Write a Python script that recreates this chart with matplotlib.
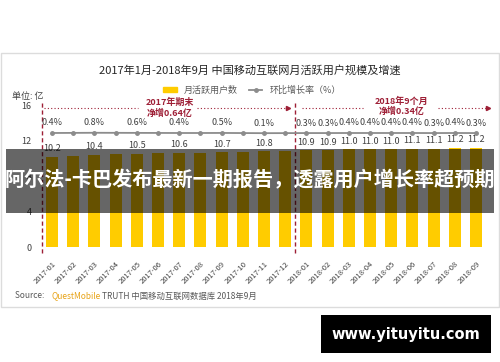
import matplotlib
matplotlib.use("Agg")
import matplotlib.pyplot as plt
from matplotlib.patches import Rectangle, Patch
from matplotlib.lines import Line2D

plt.rcParams['font.family'] = ['Noto Sans CJK SC', 'DejaVu Sans']

months = ["2017-01", "2017-02", "2017-03", "2017-04", "2017-05", "2017-06", "2017-07",
          "2017-08", "2017-09", "2017-10", "2017-11", "2017-12", "2018-01", "2018-02",
          "2018-03", "2018-04", "2018-05", "2018-06", "2018-07", "2018-08", "2018-09"]
users = [10.2, 10.3, 10.4, 10.45, 10.5, 10.55, 10.6, 10.65, 10.7, 10.75, 10.8, 10.86,
         10.9, 10.9, 11.0, 11.0, 11.0, 11.1, 11.1, 11.2, 11.2]
growth = [0.4, 0.6, 0.8, 0.7, 0.6, 0.5, 0.4, 0.4, 0.5, 0.3, 0.1, 0.2,
          0.3, 0.3, 0.4, 0.4, 0.4, 0.4, 0.3, 0.4, 0.3]
label_idx = [0, 2, 4, 6, 8, 10, 12, 13, 14, 15, 16, 17, 18, 19, 20]
yticks = [0, 4, 8, 12, 16]

W, H = 500, 362
fig = plt.figure(figsize=(W / 100, H / 100), dpi=100)

def fx(x):
    return x / W

def fy(y):
    return 1 - y / H

# frame
fig.add_artist(Rectangle((fx(1), fy(307)), fx(498), 254 / H, transform=fig.transFigure,
                         fill=False, edgecolor='#dcdcdc', lw=1))

ax = fig.add_axes([41.4 / W, 106.1 / H, 445.2 / W, 19 * 8.875 / H])
x = list(range(len(months)))
ax.bar(x, users, width=0.57, color='#FFCC00', zorder=2)
ax.set_xlim(-0.5, 20.5)
ax.set_ylim(-1, 18)
ax.set_yticks(yticks)
ax.set_yticklabels([str(t) for t in yticks], fontsize=6.5, color='#404040')
ax.set_xticks(x)
ax.set_xticklabels(months, rotation=45, ha='right', rotation_mode='anchor',
                   fontsize=5.5, color='#404040')
ax.tick_params(length=0, pad=3)
ax.tick_params(axis='y', pad=7)
for s in ax.spines.values():
    s.set_visible(False)

for i in label_idx:
    ax.annotate(f"{users[i]:.1f}", (i, users[i]), xytext=(0, 2.5), textcoords='offset points',
                ha='center', va='bottom', fontsize=6.5, color='#404040')

ax2 = ax.twinx()
R = 300
ax2.set_ylim(0.45 - 0.729 * R, 0.45 - 0.729 * R + R)
ax2.plot(x, growth, color='#8c8c8c', lw=1.3, marker='o', markersize=2.5, zorder=3)
ax2.axis('off')
for i in label_idx:
    ax2.annotate(f"{growth[i]:.1f}%", (i, growth[i]), xytext=(0, 4), textcoords='offset points',
                 ha='center', va='bottom', fontsize=6.5, color='#404040')

red = '#9E1F36'
for xv in (-0.45, 11.45):
    ax.plot([xv, xv], [-0.7, 16.3], color=red, lw=1, ls=(0, (3, 2)), clip_on=False, zorder=4)

ya = 15.66
segs = [(-0.38, 4.06, False), (6.84, 11.13, True), (11.79, 14.67, False), (18.2, 20.55, True)]
for a, b, arrow in segs:
    ax.plot([a, b], [ya, ya], color=red, lw=0.8, ls=(0, (1, 2)), clip_on=False)
    if arrow:
        ax.plot([b], [ya], marker='>', color=red, markersize=3, clip_on=False)
ax.text(5.57, ya, "2017年期末\n净增0.64亿", ha='center', va='center', fontsize=6.5,
        color=red, fontweight='bold', linespacing=1.2)
ax.text(16.5, ya + 0.2, "2018年9个月\n净增0.34亿", ha='center', va='center', fontsize=6.5,
        color=red, fontweight='bold', linespacing=1.2)

fig.text(fx(250), fy(70), "2017年1月-2018年9月 中国移动互联网月活跃用户规模及增速",
         ha='center', va='center', fontsize=8, color='#262626')
fig.text(fx(12), fy(96), "单位: 亿", ha='left', va='center', fontsize=6.5, color='#404040')

handles = [Patch(color='#FFCC00'),
           Line2D([0], [0], color='#8c8c8c', marker='o', markersize=2.5, lw=1.3)]
fig.legend(handles, ["月活跃用户数", "环比增长率（%）"], loc='center',
           bbox_to_anchor=(fx(252), fy(90)), ncol=2, frameon=False, fontsize=6.5,
           handlelength=1.5, handleheight=0.4, columnspacing=1.2, labelcolor='#595959')

# source line
fig.text(fx(15), fy(296), "Source:  ", ha='left', va='center', fontsize=6, color='#595959')
fig.text(fx(52), fy(296), "QuestMobile", ha='left', va='center', fontsize=6, color='#E8A317')
fig.text(fx(102), fy(296), "TRUTH 中国移动互联网数据库 2018年9月", ha='left', va='center',
         fontsize=6, color='#595959')

# banner overlay
fig.add_artist(Rectangle((fx(6), fy(213)), 488 / W, 64 / H, transform=fig.transFigure,
                         facecolor='black', alpha=0.6, edgecolor='none', zorder=10))
fig.text(fx(250), fy(180), "阿尔法-卡巴发布最新一期报告，透露用户增长率超预期",
         ha='center', va='center', fontsize=14.5, color='white', fontweight='bold', zorder=11)

# watermark
fig.add_artist(Rectangle((fx(321), fy(353)), 170 / W, 38 / H, transform=fig.transFigure,
                         facecolor='black', edgecolor='none', zorder=10))
fig.text(fx(406), fy(334), "www.yituyitu.com", ha='center', va='center', fontsize=10.5,
         color='white', fontweight='bold', family='DejaVu Sans', zorder=11)

fig.savefig("out.png", dpi=100)
